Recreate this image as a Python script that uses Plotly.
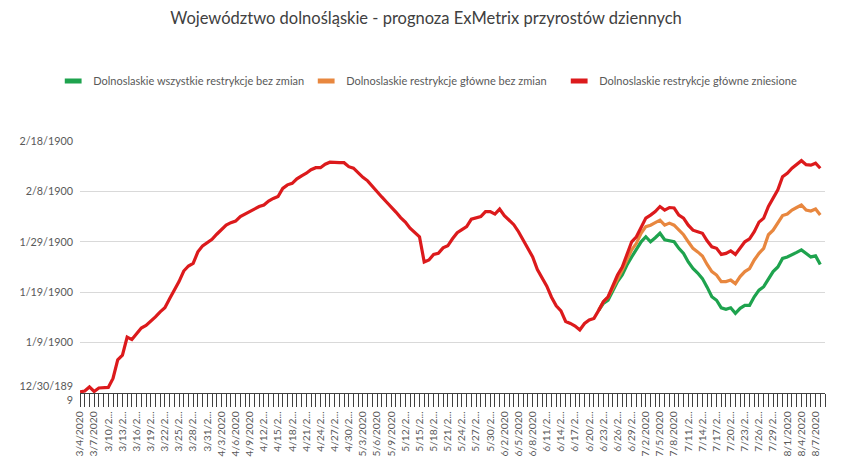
import datetime as dt
import plotly.graph_objects as go

# ---- data -------------------------------------------------------------
start = dt.date(2020, 3, 4)
n_days = 159  # 3/4/2020 .. 8/9/2020
dates = [f"{d.month}/{d.day}/{d.year}" for d in (start + dt.timedelta(days=i) for i in range(n_days))]

red_values = [
    0.2, 0.4, 1.2, 0.3, 1.0, 1.1, 1.1, 2.9, 6.6, 7.5,
    11.1, 10.6, 11.8, 12.9, 13.4, 14.2, 15.1, 16.1, 16.9, 18.7,
    20.4, 22.1, 24.2, 25.2, 25.7, 28.0, 29.2, 29.8, 30.5, 31.5,
    32.5, 33.3, 33.8, 34.1, 35.0, 35.5, 35.9, 36.5, 37.0, 37.3,
    38.1, 38.6, 39.0, 40.6, 41.3, 41.6, 42.5, 43.1, 43.6, 44.3,
    44.7, 44.7, 45.4, 45.8, 45.7, 45.7, 45.7, 44.9, 44.6, 43.6,
    42.8, 42.1, 41.0, 39.8, 38.9, 37.9, 37.0, 35.9, 34.8, 33.9,
    32.7, 31.9, 31.0, 26.0, 26.4, 27.5, 27.7, 28.8, 29.2, 30.6,
    31.8, 32.4, 33.0, 34.5, 34.8, 35.0, 36.0, 36.0, 35.5, 36.5,
    35.2, 34.2, 33.4, 32.0, 30.3, 28.8, 27.0, 24.5, 22.8, 21.2,
    19.0, 17.3, 16.3, 14.2, 13.8, 13.3, 12.5, 13.8, 14.5, 14.8,
    16.4, 18.1, 19.1, 21.1, 23.4, 25.0, 27.4, 30.0, 31.0, 32.7,
    34.7, 35.3, 36.0, 37.0, 36.3, 36.8, 36.7, 35.3, 34.7, 33.3,
    32.3, 32.0, 31.7, 30.2, 29.0, 28.7, 27.5, 27.7, 28.2, 27.5,
    28.7, 30.0, 30.6, 32.0, 33.9, 34.7, 37.0, 38.6, 40.3, 42.9,
    43.6, 44.6, 45.3, 46.1, 45.3, 45.2, 45.6, 44.6,
]

forecast_start = 110  # 6/22/2020
orange_values = [
    16.4, 18.1, 19.0, 20.7, 22.7, 24.4, 26.4, 28.4, 29.7, 31.7,
    33.0, 33.3, 33.8, 34.3, 33.3, 33.7, 33.3, 32.3, 31.4, 30.0,
    28.7, 28.0, 27.2, 25.5, 24.1, 23.4, 22.1, 22.1, 22.4, 21.7,
    23.1, 24.1, 24.7, 26.4, 27.7, 28.7, 31.4, 32.3, 33.7, 35.2,
    35.5, 36.3, 36.8, 37.3, 36.3, 36.1, 36.5, 35.3,
]
green_values = [
    16.4, 17.8, 18.4, 20.1, 22.1, 23.4, 25.4, 27.0, 28.4, 30.0,
    31.0, 30.0, 30.8, 31.7, 30.4, 30.2, 30.0, 28.7, 27.7, 26.0,
    24.7, 23.8, 22.7, 21.0, 19.1, 18.4, 16.9, 16.6, 16.9, 15.8,
    16.8, 17.4, 17.4, 19.1, 20.4, 21.1, 22.7, 24.1, 25.0, 26.7,
    27.0, 27.4, 27.9, 28.4, 27.7, 27.0, 27.2, 25.5,
]

series_names = [
    "Dolnoslaskie wszystkie restrykcje bez zmian",
    "Dolnoslaskie restrykcje główne bez zmian",
    "Dolnoslaskie restrykcje główne zniesione",
]
y_tick_vals = [0, 10, 20, 30, 40, 50]
y_tick_text = ["12/30/189<br>9", "1/9/1900", "1/19/1900", "1/29/1900", "2/8/1900", "2/18/1900"]


def excel_label(s):
    return s if len(s) <= 8 else s[:6] + "..."


x_tick_text = [excel_label(d) if i % 3 == 0 else "" for i, d in enumerate(dates)]

GREEN = "#1ea34e"
ORANGE = "#e8873f"
RED = "#dc1a1c"
FONT = "Lato"

fig = go.Figure()
series = [
    (series_names[0], dates[forecast_start:forecast_start + len(green_values)], green_values, GREEN),
    (series_names[1], dates[forecast_start:forecast_start + len(orange_values)], orange_values, ORANGE),
    (series_names[2], dates[:len(red_values)], red_values, RED),
]
for name, xs, ys, col in series:
    fig.add_trace(go.Scatter(x=xs, y=ys, mode="lines", name=name, showlegend=False,
                             legendgroup=name, line=dict(color=col, width=3.2)))
for name, xs, ys, col in series:
    fig.add_trace(go.Scatter(x=[None], y=[None], mode="markers", name=name, legendgroup=name,
                             marker=dict(symbol="line-ew", size=12, color=col,
                                         line=dict(color=col, width=5))))

fig.update_layout(
    width=852, height=469, autosize=False,
    margin=dict(l=80, r=27, t=141, b=76),
    paper_bgcolor="white", plot_bgcolor="white",
    font=dict(family=FONT, color="#595959"),
    title=dict(text="Województwo dolnośląskie - prognoza ExMetrix przyrostów dziennych",
               x=0.5, xanchor="center", y=0.962, yanchor="middle",
               font=dict(family=FONT, size=16.5, color="#404040")),
    legend=dict(orientation="h", x=-0.036, xanchor="left", y=1.238, yanchor="middle",
                entrywidth=208, entrywidthmode="pixels",
                font=dict(family=FONT, size=11, color="#595959"),
                bgcolor="rgba(0,0,0,0)"),
    showlegend=True,
)
fig.update_xaxes(
    type="category", categoryorder="array", categoryarray=dates,
    range=[0, n_days - 1], automargin=False,
    tickmode="array", tickvals=dates, ticktext=x_tick_text,
    tickangle=-90, ticks="outside", ticklen=13, tickwidth=1, tickcolor="#404040",
    showline=True, linecolor="#404040", linewidth=1.3,
    showgrid=False, zeroline=False,
    tickfont=dict(family=FONT, size=10.3, color="#595959"),
)
fig.update_yaxes(
    range=[0, 50], automargin=False,
    tickmode="array", tickvals=y_tick_vals, ticktext=y_tick_text,
    showgrid=True, gridcolor="#d9d9d9", gridwidth=1.2,
    showline=False, zeroline=False, ticks="", ticklabelstandoff=6,
    tickfont=dict(family=FONT, size=10.8, color="#595959"),
)

fig.write_html("out.html", config={"displayModeBar": False},
               post_script="document.body.style.margin='0';")
